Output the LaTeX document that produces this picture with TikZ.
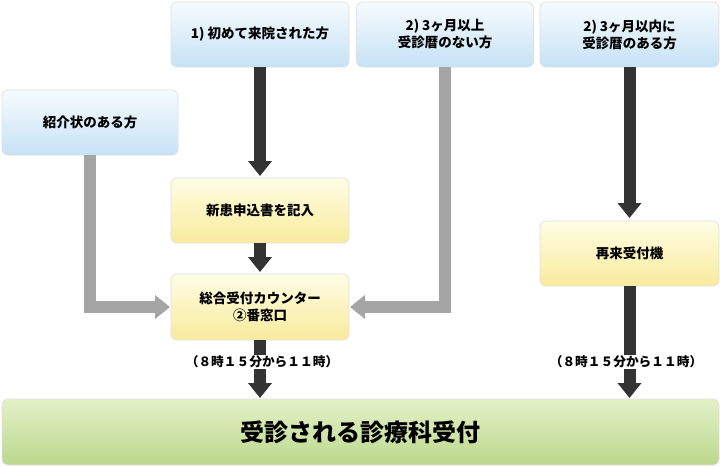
\documentclass[tikz,border=0pt]{standalone}
\usepackage{fontspec}
\setmainfont{Noto Sans CJK JP}
\usetikzlibrary{arrows.meta}

\definecolor{boxline}{HTML}{E0E0E0}
\definecolor{bluetop}{HTML}{F7FBFE}
\definecolor{bluebot}{HTML}{C6E2F5}
\definecolor{yellowtop}{HTML}{FFFDE4}
\definecolor{yellowbot}{HTML}{F8EB9C}
\definecolor{greentop}{HTML}{E4F1C8}
\definecolor{greenbot}{HTML}{BBD88C}
\definecolor{darkshaft}{HTML}{333333}
\definecolor{grayshaft}{HTML}{A5A5A5}

\begin{document}
\begin{tikzpicture}[x=1pt, y=-1pt,
    box/.style={rectangle, draw=boxline, line width=0.8pt, rounded corners=6pt, inner sep=0pt, outer sep=0pt,
        minimum width=178pt, minimum height=65pt, align=center,
        font=\fontsize{13.5}{17}\selectfont\bfseries},
    bluebox/.style={box, top color=bluetop, bottom color=bluebot},
    yellowbox/.style={box, top color=yellowtop, bottom color=yellowbot},
    greenbox/.style={box, top color=greentop, bottom color=greenbot, font=\fontsize{24}{28}\selectfont\bfseries},
    darkarrow/.style={-{Triangle[width=23pt, length=15pt]}, line width=12pt, draw=darkshaft},
    grayarrow/.style={-{Triangle[width=23pt, length=15pt]}, line width=12pt, draw=grayshaft, line join=miter},
    timelabel/.style={fill=white, inner sep=1pt, font=\fontsize{12.7}{14}\selectfont\bfseries}
]
    \useasboundingbox (0,0) rectangle (720,466);

    \node[bluebox, minimum width=176pt] (intro) at (90, 122.5) {紹介状のある方};
    \node[bluebox] (first) at (260, 34.5) {1) 初めて来院された方};
    \node[bluebox, minimum width=177pt] (over3) at (445, 34.5) {2) 3ヶ月以上\\受診暦のない方};
    \node[bluebox, minimum width=179pt] (within3) at (629.5, 34.5) {2) 3ヶ月以内に\\受診暦のある方};

    \node[yellowbox] (form) at (260, 210.5) {新患申込書を記入};
    \node[yellowbox, minimum height=66pt] (counter) at (260, 307) {総合受付カウンター\\②番窓口};
    \node[yellowbox, minimum width=179pt] (machine) at (629.5, 253.5) {再来受付機};

    \node[greenbox, minimum width=717pt, minimum height=66pt] (dept) at (360.5, 432) {受診される診療科受付};

    \draw[darkarrow, shorten >=2pt] (first.south) -- (form.north);
    \draw[darkarrow, shorten >=2pt] (form.south) -- (counter.north);
    \draw[darkarrow, shorten >=3pt] (within3.south) -- (machine.north);
    \draw[grayarrow, shorten >=1pt] (intro.south) |- (counter.west);
    \draw[grayarrow, shorten >=1pt] (over3.south) |- (counter.east);

    \draw[darkarrow, shorten >=1pt] (counter.south) -- (dept.north -| counter.south)
        node[timelabel, pos=0.37, xshift=2pt] (time1) {（８時１５分から１１時）};
    \draw[darkarrow, shorten >=1pt] (machine.south) -- (dept.north -| machine.south)
        node[timelabel, pos=0.67, xshift=-3.5pt] (time2) {（８時１５分から１１時）};
\end{tikzpicture}
\end{document}
